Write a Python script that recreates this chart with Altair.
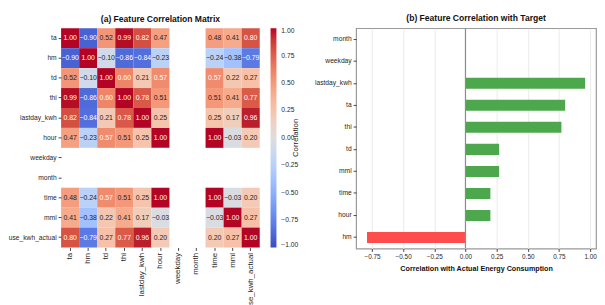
import altair as alt
import pandas as pd

# ---------------- data ----------------
features = ["ta", "hm", "td", "thi", "lastday_kwh", "hour", "weekday", "month",
            "time", "mml", "use_kwh_actual"]

row_ta = [1.00, -0.90, 0.52, 0.99, 0.82, 0.47, None, None, 0.48, 0.41, 0.80]
row_hm = [-0.90, 1.00, -0.10, -0.86, -0.84, -0.23, None, None, -0.24, -0.38, -0.79]
row_td = [0.52, -0.10, 1.00, 0.60, 0.21, 0.57, None, None, 0.57, 0.22, 0.27]
row_thi = [0.99, -0.86, 0.60, 1.00, 0.78, 0.51, None, None, 0.51, 0.41, 0.77]
row_lastday = [0.82, -0.84, 0.21, 0.78, 1.00, 0.25, None, None, 0.25, 0.17, 0.96]
row_hour = [0.47, -0.23, 0.57, 0.51, 0.25, 1.00, None, None, 1.00, -0.03, 0.20]
row_weekday = [None] * 11
row_month = [None] * 11
row_time = [0.48, -0.24, 0.57, 0.51, 0.25, 1.00, None, None, 1.00, -0.03, 0.20]
row_mml = [0.41, -0.38, 0.22, 0.41, 0.17, -0.03, None, None, -0.03, 1.00, 0.27]
row_use = [0.80, -0.79, 0.27, 0.77, 0.96, 0.20, None, None, 0.20, 0.27, 1.00]
corr_rows = [row_ta, row_hm, row_td, row_thi, row_lastday, row_hour, row_weekday,
             row_month, row_time, row_mml, row_use]

target_features = ["month", "weekday", "lastday_kwh", "ta", "thi", "td", "mml",
                   "time", "hour", "hm"]
target_corr = [None, None, 0.96, 0.80, 0.77, 0.27, 0.27, 0.20, 0.20, -0.79]

legend_ticks = [-1.0, -0.75, -0.5, -0.25, 0.0, 0.25, 0.5, 0.75, 1.0]
bar_ticks = [-0.75, -0.5, -0.25, 0.0, 0.25, 0.5, 0.75, 1.0]
legend_title = ["Correlation"]

# coolwarm colour map stops (Moreland)
coolwarm = [
    "#3b4cc0", "#445acc", "#4d68d7", "#5775e1", "#6282ea", "#6c8ef1", "#779af7",
    "#82a5fb", "#8db0fe", "#98b9ff", "#a3c2ff", "#aec9fd", "#b8d0f9", "#c2d5f4",
    "#ccd9ee", "#d5dbe6", "#dddddd", "#e5d8d1", "#ecd3c5", "#f1ccb8", "#f5c4ac",
    "#f7bba0", "#f7b194", "#f7a687", "#f49a7b", "#f18d6f", "#ec7f63", "#e57058",
    "#de604d", "#d55042", "#cb3e38", "#c0282f", "#b40426",
]
cw_domain = [-1 + 2 * i / 32 for i in range(33)]

# ---------------- frames ----------------
heat_records = []
for r, rname in enumerate(features):
    for c, cname in enumerate(features):
        v = corr_rows[r][c]
        if v is not None:
            heat_records.append({"row": rname, "col": cname, "value": v})
heat_df = pd.DataFrame(heat_records)

bar_df = pd.DataFrame({"feature": target_features, "corr": target_corr})
bar_df = bar_df.dropna()
bar_df["sign"] = ["pos" if v >= 0 else "neg" for v in bar_df["corr"]]

FONT = "Liberation Sans"
TXT = "#262626"

# ---------------- heatmap ----------------
HW, HH = 202, 223
hbase = alt.Chart(heat_df)
xh = alt.X("col:N", scale=alt.Scale(domain=features, paddingInner=0, paddingOuter=0),
           axis=alt.Axis(title=None, labelAngle=-90, domain=False, tickSize=3,
                         labelFontSize=8, labelPadding=2, labelOverlap=False))
yh = alt.Y("row:N", scale=alt.Scale(domain=features, paddingInner=0, paddingOuter=0),
           axis=alt.Axis(title=None, domain=False, tickSize=3, labelFontSize=6.8,
                         labelPadding=2, minExtent=51, maxExtent=51, labelOverlap=False))
rect = hbase.mark_rect().encode(
    x=xh, y=yh,
    color=alt.Color("value:Q",
                    scale=alt.Scale(domain=cw_domain, range=coolwarm),
                    legend=alt.Legend(title=None, values=legend_ticks,
                                      format=".2f", gradientLength=HH,
                                      gradientThickness=6, labelFontSize=6.8,
                                      labelColor=TXT, labelOffset=5,
                                      offset=11, direction="vertical")),
)
txt = hbase.mark_text(fontSize=7).encode(
    x=alt.X("col:N"), y=alt.Y("row:N"),
    text=alt.Text("value:Q", format=".2f"),
    color=alt.condition("datum.value > 0.55 || datum.value < -0.55",
                        alt.value("white"), alt.value(TXT)),
)
ltitle = alt.Chart(pd.DataFrame({"t": legend_title})).mark_text(
    angle=270, fontSize=8, color=TXT, align="center", baseline="middle"
).encode(text="t:N", x=alt.value(HW + 37), y=alt.value(HH / 2))

heat = alt.layer(rect, txt, ltitle).properties(
    width=HW, height=HH,
    title=alt.TitleParams("(a) Feature Correlation Matrix", frame="group",
                          anchor="middle", fontSize=8.7, fontWeight="bold",
                          offset=5, color="#111111"),
)

# ---------------- bar chart ----------------
bar_axis = alt.Axis(values=bar_ticks, format=".2f", grid=True, gridColor="#ebebeb",
                    domain=False, tickSize=3, labelFontSize=6.5, labelOverlap=False,
                    title="Correlation with Actual Energy Consumption",
                    titleFontSize=7.3, titleFontWeight="bold", titlePadding=5)
bar_scale = alt.Scale(domain=[-0.8775, 1.0475], nice=False, zero=False)

zero = alt.Chart(pd.DataFrame({"z": [0]})).mark_rule(
    color="#8c8c8c", strokeWidth=1.2
).encode(x=alt.XDatum(0, type="quantitative", scale=bar_scale, axis=bar_axis))

bars = alt.Chart(bar_df).mark_bar().encode(
    x=alt.X("corr:Q", scale=bar_scale, axis=bar_axis),
    x2=alt.datum(0),
    y=alt.Y("feature:N",
            scale=alt.Scale(domain=target_features, paddingInner=0.5, paddingOuter=0.25),
            axis=alt.Axis(title=None, domain=False, tickSize=3, labelFontSize=6.8,
                          labelPadding=2, minExtent=37, maxExtent=37, labelOverlap=False)),
    color=alt.Color("sign:N", scale=alt.Scale(domain=["pos", "neg"],
                                              range=["#4DA74D", "#FF4D4D"]),
                    legend=None),
)
barchart = alt.layer(bars, zero).properties(
    width=244, height=224,
    view=alt.ViewBackground(stroke="#999999", strokeWidth=1.2),
    title=alt.TitleParams("(b) Feature Correlation with Target", frame="group",
                          anchor="middle", fontSize=8.7, fontWeight="bold",
                          offset=5, color="#111111"),
)

chart = alt.hconcat(heat, barchart, spacing=13).properties(
    padding={"left": 0, "top": 3, "right": 0, "bottom": 0}
).configure(font=FONT).configure_view(
    stroke=None
).configure_axis(
    labelFont=FONT, titleFont=FONT, labelColor=TXT, titleColor="#111111",
    tickColor="#444444"
).configure_legend(labelFont=FONT, titleFont=FONT).configure_title(font=FONT)

chart.save("out.html", embed_options={"renderer": "svg", "actions": False})
